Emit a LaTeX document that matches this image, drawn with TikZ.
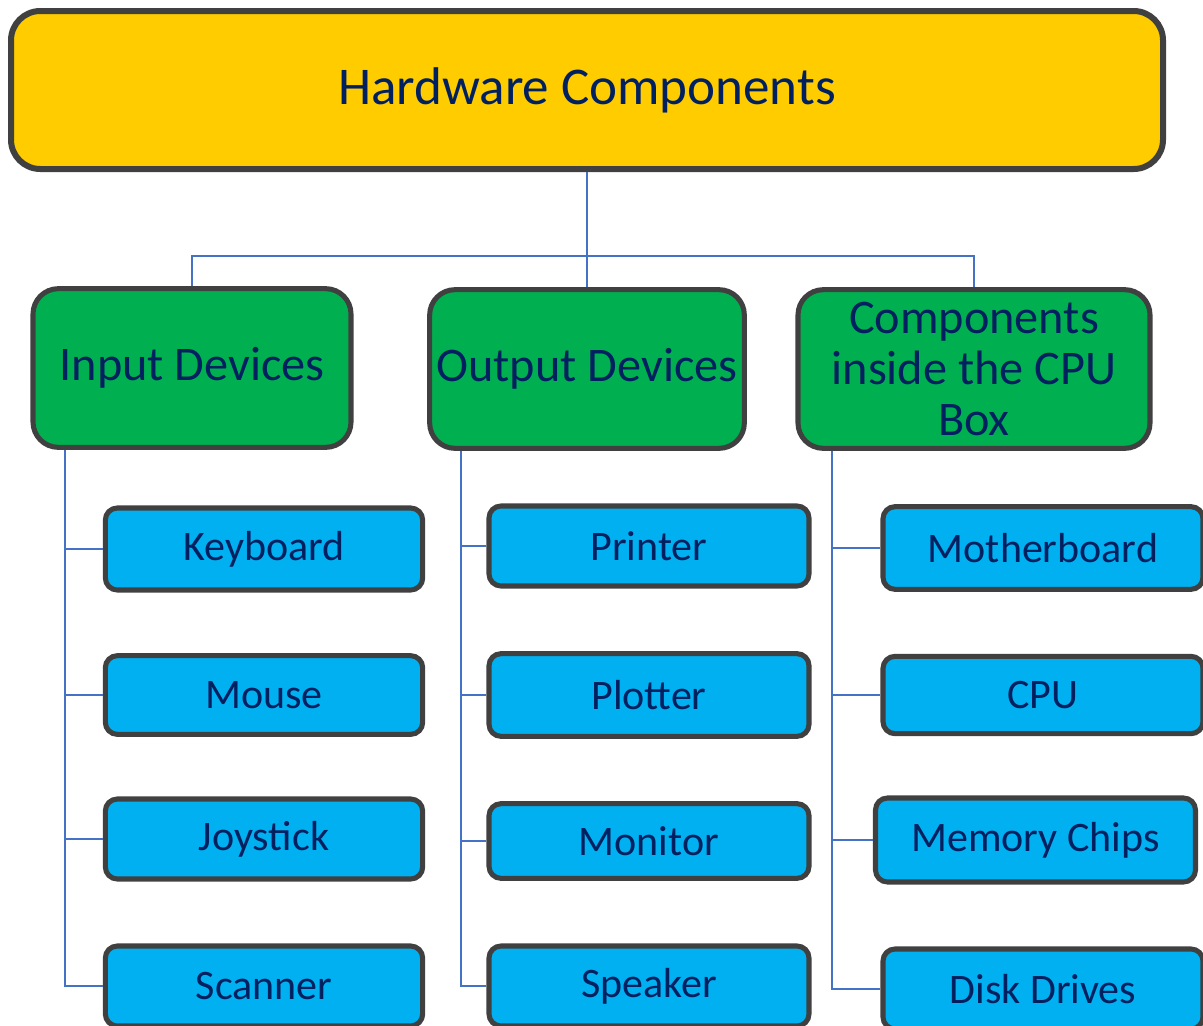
\documentclass[tikz,border=0pt]{standalone}
\usepackage{fontspec}
\setmainfont{Carlito}
\definecolor{txt}{RGB}{0,32,96}
\definecolor{gold}{RGB}{255,204,0}
\definecolor{grn}{RGB}{0,176,80}
\definecolor{sky}{RGB}{0,176,240}
\definecolor{edge}{RGB}{64,64,64}
\definecolor{conn}{RGB}{68,114,196}
\tikzset{
  base/.style={draw=edge, text=txt, align=center, inner sep=0pt},
  topbox/.style={base, fill=gold, line width=4.5pt, rounded corners=22pt,
    minimum width=864pt, minimum height=118.5pt, font=\fontsize{39.8}{47}\selectfont},
  catbox/.style={base, fill=grn, line width=3.8pt, rounded corners=19pt,
    minimum height=119pt, font=\fontsize{36.2}{38.5}\selectfont},
  itembox/.style={base, fill=sky, line width=3.8pt, rounded corners=9pt,
    minimum width=238pt, minimum height=59pt, font=\fontsize{31.5}{36}\selectfont},
  link/.style={draw=conn, line width=1.6pt},
}
\begin{document}
\begin{tikzpicture}[x=0.75pt, y=-0.75pt]
\useasboundingbox (0,0) rectangle (1203,1025);
% nodes
\node[topbox] (hw) at (587,90) {Hardware Components};
\node[catbox, minimum width=238.5pt] (inp) at (192,368) {Input Devices};
\node[catbox, minimum width=236pt] (out) at (587,369) {Output Devices};
\node[catbox, minimum width=264pt] (cpub) at (974,369) {Components\\inside the CPU\\Box};

\node[itembox, minimum height=61.5pt] (kbd) at (264,549) {Keyboard};
\node[itembox] (mouse) at (264,695) {Mouse};
\node[itembox, minimum height=60pt] (joy) at (264,839) {Joystick};
\node[itembox, minimum height=60pt] (scan) at (264,986) {Scanner};

\node[itembox, minimum width=240pt, minimum height=60pt] (prn) at (649,546) {Printer};
\node[itembox, minimum width=240pt, minimum height=62pt] (plot) at (649,695) {Plotter};
\node[itembox, minimum width=240pt, minimum height=56pt] (mon) at (649,841) {Monitor};
\node[itembox, minimum width=240pt, minimum height=60pt] (spk) at (649,986) {Speaker};

\node[itembox, minimum width=240pt, minimum height=62pt] (mb) at (1043,548) {Motherboard};
\node[itembox, minimum width=240pt, minimum height=58pt] (cpu) at (1043,695) {CPU};
\node[itembox, minimum width=240pt, minimum height=63pt] (mem) at (1035.5,840) {Memory Chips};
\node[itembox, minimum width=240pt, minimum height=60pt] (disk) at (1043,989) {Disk Drives};

% connectors
\draw[link] (hw.south) -- (hw.south |- 0,256) -| (inp.north);
\draw[link] (hw.south |- 0,256) -| (cpub.north);
\draw[link] (hw.south |- 0,256) -- (out.north);

\draw[link] (inp.south -| 65,0) |- (scan.west);
\draw[link] (kbd.west) -- (kbd.west -| 65,0);
\draw[link] (mouse.west) -- (mouse.west -| 65,0);
\draw[link] (joy.west) -- (joy.west -| 65,0);

\draw[link] (out.south -| 461,0) |- (spk.west);
\draw[link] (prn.west) -- (prn.west -| 461,0);
\draw[link] (plot.west) -- (plot.west -| 461,0);
\draw[link] (mon.west) -- (mon.west -| 461,0);

\draw[link] (cpub.south -| 832,0) |- (disk.west);
\draw[link] (mb.west) -- (mb.west -| 832,0);
\draw[link] (cpu.west) -- (cpu.west -| 832,0);
\draw[link] (mem.west) -- (mem.west -| 832,0);
\end{tikzpicture}
\end{document}
